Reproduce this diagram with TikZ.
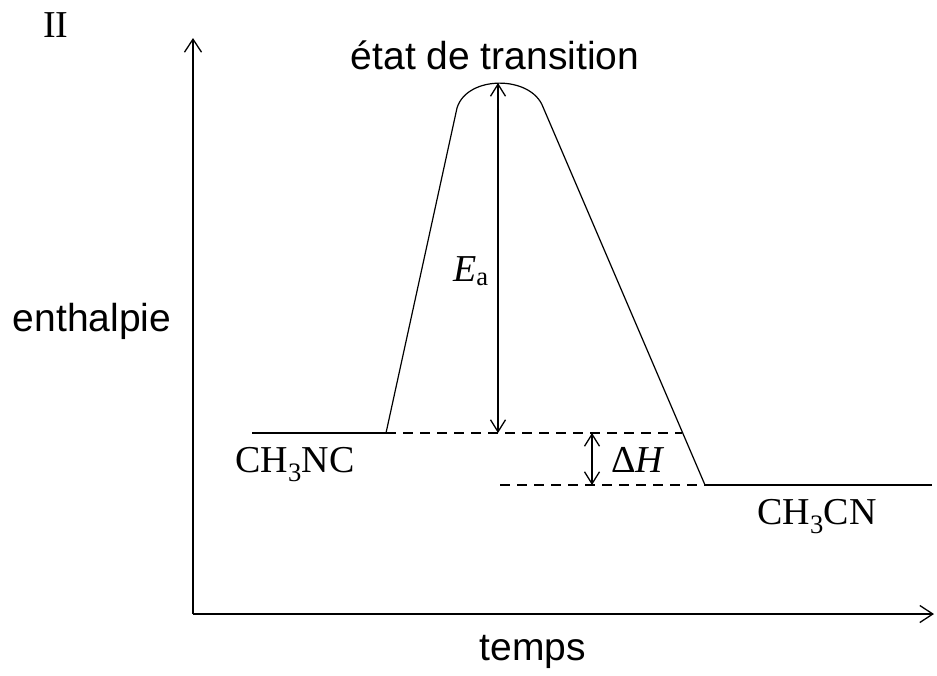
\documentclass[tikz,border=0pt]{standalone}
\usepackage{fontspec}
\setmainfont{Liberation Serif}
\newfontfamily\arialf{Liberation Sans}
\usetikzlibrary{arrows.meta}
\tikzset{
  axisline/.style={line width=1.8pt, -{Straight Barb[length=13pt,width=17pt,line width=1.3pt]}},
  curveline/.style={line width=1.2pt},
  levelline/.style={line width=1.8pt},
  dashline/.style={line width=1.7pt, dash pattern=on 10pt off 7pt},
  dimarrow/.style={line width=1.7pt, {Straight Barb[length=12pt,width=15pt,line width=1.3pt]}-{Straight Barb[length=12pt,width=15pt,line width=1.3pt]}},
  sanslabel/.style={font=\arialf\fontsize{39}{46}\selectfont, inner sep=0pt},
  seriflabel/.style={font=\fontsize{38}{45}\selectfont, inner sep=0pt}
}
\begin{document}
\begin{tikzpicture}[x=1pt,y=-1pt]
\useasboundingbox (0,0) rectangle (937,675);
% coordinates
\coordinate (O) at (193,614);
\coordinate (Ytop) at (193,38);
\coordinate (Xend) at (934,614);
\coordinate (R0) at (252,433);
\coordinate (R1) at (386,433);
\coordinate (T0) at (457,108);
\coordinate (Peak) at (498,83);
\coordinate (T1) at (543,107);
\coordinate (P0) at (705,485);
\coordinate (P1) at (932,485);
\coordinate (Rd) at (682,433);
\coordinate (Pd) at (500,485);
\coordinate (EaB) at (498,433);
\coordinate (dHa) at (592,433);
\coordinate (dHb) at (592,485);
% axes
\draw[axisline] (O) -- (Ytop);
\draw[axisline] (O) -- (Xend);
% energy profile
\draw[levelline] (R0) -- (R1);
\draw[curveline] (R1) -- (T0) .. controls (467,75) and (531,75) .. (T1) -- (P0);
\draw[levelline] (P0) -- (P1);
% dashed guides
\draw[dashline] (R1) -- (Rd);
\draw[dashline] (Pd) -- (P0);
% arrows
\draw[dimarrow] (EaB) -- (Peak);
\draw[dimarrow] (dHa) -- (dHb);
% labels
\node[seriflabel] (lII) at (56,25) {II};
\node[sanslabel] (lts) at (495,55) {état de transition};
\node[sanslabel] (lenth) at (92,321) {enthalpie};
\node[sanslabel] (ltemps) at (533,652) {temps};
\node[seriflabel] (lEa) at (471,271) {\textit{E}\textsubscript{a}};
\node[seriflabel] (ldH) at (638,460) {Δ\textit{H}};
\node[seriflabel] (lR) at (295,465) {CH\textsubscript{3}NC};
\node[seriflabel] (lP) at (817,517) {CH\textsubscript{3}CN};
\end{tikzpicture}
\end{document}
